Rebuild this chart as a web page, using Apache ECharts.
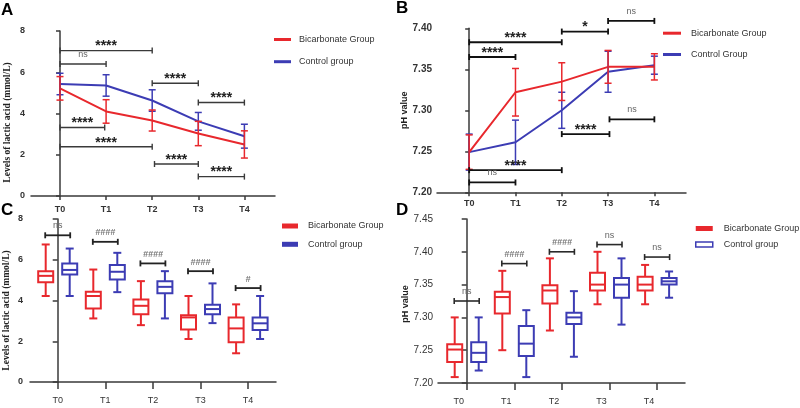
<!DOCTYPE html>
<html><head><meta charset="utf-8">
<script src="https://cdn.jsdelivr.net/npm/echarts@6/dist/echarts.min.js"></script>
<style>html,body{margin:0;padding:0;background:#fff}#c{width:800px;height:408px}</style>
</head><body><div id="c"></div>
<script>
// ---------- data ----------
const categories = ['T0', 'T1', 'T2', 'T3', 'T4'];

// Panel A: lactic acid (mmol/L), mean and SD
const lacBicMean = [5.22, 4.10, 3.66, 3.03, 2.50];
const lacBicSd   = [0.57, 0.57, 0.51, 0.59, 0.66];
const lacCtlMean = [5.43, 5.36, 4.63, 3.62, 2.90];
const lacCtlSd   = [0.52, 0.52, 0.52, 0.43, 0.58];
// brackets: [fromTime, toTime, y, label]
const lacTimeBrackets = [
  [0, 2, 7.05, '****'], [0, 1, 6.40, 'ns'], [2, 3, 5.47, '****'], [3, 4, 4.53, '****'],
  [0, 0.97, 3.32, '****'], [0, 2, 2.39, '****'], [2.05, 3, 1.55, '****'], [3, 4, 0.94, '****']
];

// Panel B: pH, mean and SD
const phBicMean = [7.249, 7.322, 7.335, 7.353, 7.353];
const phBicSd   = [0.021, 0.029, 0.023, 0.020, 0.016];
const phCtlMean = [7.249, 7.261, 7.300, 7.347, 7.355];
const phCtlSd   = [0.022, 0.027, 0.022, 0.025, 0.011];
const phTimeBrackets = [
  [0, 1, 7.365, '****'], [0, 2, 7.383, '****'], [2, 3, 7.396, '*'], [3, 4, 7.409, 'ns'],
  [3.03, 4, 7.289, 'ns'], [2, 3.03, 7.271, '****'], [0, 2, 7.227, '****'], [0, 1, 7.212, 'ns']
];

// Panel C: lactic acid boxes [min, Q1, median, Q3, max]
const lacBicBox = [
  [4.22, 4.90, 5.21, 5.44, 6.75], [3.12, 3.61, 4.22, 4.43, 5.52], [2.79, 3.32, 3.74, 4.05, 4.95],
  [2.11, 2.58, 3.17, 3.27, 4.22], [1.41, 1.95, 2.63, 3.17, 3.81]
];
const lacCtlBox = [
  [4.22, 5.28, 5.50, 5.82, 6.55], [4.41, 5.03, 5.41, 5.74, 6.34], [3.12, 4.35, 4.67, 4.95, 5.44],
  [2.89, 3.33, 3.58, 3.79, 4.84], [2.11, 2.55, 2.88, 3.17, 4.22]
];
// group brackets: [time index, y, label]
const lacGroupBrackets = [[0, 7.20, 'ns'], [1, 6.88, '####'], [2, 5.82, '####'], [3, 5.44, '####'], [4, 4.61, '#']];

// Panel D: pH boxes [min, Q1, median, Q3, max]
const phBicBox = [
  [7.209, 7.232, 7.251, 7.259, 7.300], [7.250, 7.306, 7.331, 7.339, 7.371], [7.280, 7.321, 7.341, 7.349, 7.390],
  [7.320, 7.341, 7.350, 7.368, 7.400], [7.320, 7.341, 7.350, 7.362, 7.380]
];
const phCtlBox = [
  [7.219, 7.232, 7.246, 7.262, 7.300], [7.209, 7.241, 7.260, 7.287, 7.311], [7.240, 7.290, 7.300, 7.307, 7.340],
  [7.289, 7.330, 7.350, 7.360, 7.390], [7.330, 7.350, 7.355, 7.360, 7.370]
];
const phGroupBrackets = [[0, 7.325, 'ns'], [1, 7.382, '####'], [2, 7.400, '####'], [3, 7.411, 'ns'], [4, 7.392, 'ns']];

// ---------- styles ----------
const RED = '#e8282d', BLUE = '#3c3cb4', AX = '#3a3a3a';
const SANS = 'Liberation Sans', SERIF = 'Liberation Serif';

function labelStyle(lbl) {
  if (lbl.indexOf('*') >= 0) return { fontSize: 14, fontWeight: 'bold', fill: '#222', dy: -4 };
  if (lbl.indexOf('#') >= 0) return { fontSize: 9, fontWeight: 'bold', fontStyle: 'italic', fill: '#777', dy: -9 };
  return { fontSize: 9, fontWeight: 'normal', fill: '#666', dy: -9.5 };
}
function bracketGroup(x1, x2, y, lbl, color, lw) {
  const ls = labelStyle(lbl);
  const st = { stroke: color, lineWidth: lw };
  return { type: 'group', children: [
    { type: 'line', shape: { x1: x1, y1: y, x2: x2, y2: y }, style: st },
    { type: 'line', shape: { x1: x1, y1: y - 3, x2: x1, y2: y + 3 }, style: st },
    { type: 'line', shape: { x1: x2, y1: y - 3, x2: x2, y2: y + 3 }, style: st },
    { type: 'text', x: (x1 + x2) / 2, y: y + ls.dy, style: {
      text: lbl, align: 'center', verticalAlign: 'middle', fontSize: ls.fontSize,
      fontWeight: ls.fontWeight, fontStyle: ls.fontStyle || 'normal', fontFamily: SANS, fill: ls.fill } }
  ]};
}
function makeTimeBracketRender(src, color, lw) {
  return function (params, api) {
    const b = src[params.dataIndex];
    const p1 = api.coord([b[0], b[2]]), p2 = api.coord([b[1], b[2]]);
    return bracketGroup(p1[0], p2[0], p1[1], b[3], color, lw);
  };
}
function makeGroupBracketRender(src, color, lw, half) {
  return function (params, api) {
    const b = src[params.dataIndex];
    const p = api.coord([b[0], b[1]]);
    return bracketGroup(p[0] - half, p[0] + half, p[1], b[2], color, lw);
  };
}
function errorBarRender(params, api) {
  const x = api.value(0), m = api.value(1), s = api.value(2);
  const t = api.coord([x, m + s]), b = api.coord([x, m - s]);
  const hw = 3.5, st = { stroke: api.visual('color'), lineWidth: 1.5 };
  return { type: 'group', children: [
    { type: 'line', shape: { x1: t[0], y1: t[1], x2: b[0], y2: b[1] }, style: st },
    { type: 'line', shape: { x1: t[0] - hw, y1: t[1], x2: t[0] + hw, y2: t[1] }, style: st },
    { type: 'line', shape: { x1: b[0] - hw, y1: b[1], x2: b[0] + hw, y2: b[1] }, style: st }
  ]};
}
function makeBoxRender(offset) {
  return function (params, api) {
    const i = api.value(0);
    const ys = [1, 2, 3, 4, 5].map(k => api.coord([i, api.value(k)])[1]);
    const x = api.coord([i, api.value(3)])[0] + offset;
    const [ymin, yq1, ymed, yq3, ymax] = ys;
    const bw = 7.5, cw = 4;
    const st = { stroke: api.visual('color'), lineWidth: 2 };
    return { type: 'group', children: [
      { type: 'line', shape: { x1: x, y1: ymax, x2: x, y2: yq3 }, style: st },
      { type: 'line', shape: { x1: x, y1: yq1, x2: x, y2: ymin }, style: st },
      { type: 'line', shape: { x1: x - cw, y1: ymax, x2: x + cw, y2: ymax }, style: st },
      { type: 'line', shape: { x1: x - cw, y1: ymin, x2: x + cw, y2: ymin }, style: st },
      { type: 'rect', shape: { x: x - bw, y: yq3, width: 2 * bw, height: yq1 - yq3 },
        style: { stroke: api.visual('color'), lineWidth: 2, fill: 'none' } },
      { type: 'line', shape: { x1: x - bw, y1: ymed, x2: x + bw, y2: ymed }, style: st }
    ]};
  };
}

function xAxis(gridIndex, min, max, o) {
  return {
    type: 'value', gridIndex: gridIndex, min: min, max: max, splitLine: { show: false },
    axisLine: { show: true, lineStyle: { color: AX, width: 1.5 } },
    axisTick: { show: true, customValues: [0, 1, 2, 3, 4], length: o.tick, lineStyle: { color: AX, width: 1.5 } },
    axisLabel: { customValues: [0, 1, 2, 3, 4], formatter: v => categories[Math.round(v)], margin: o.margin,
      fontSize: 9, fontWeight: o.bold ? 'bold' : 'normal', color: '#333', fontFamily: SANS, padding: o.pad || 0 }
  };
}
function yAxis(gridIndex, min, max, interval, o) {
  return {
    type: 'value', gridIndex: gridIndex, min: min, max: max, interval: interval, splitLine: { show: false },
    axisLine: { show: true, lineStyle: { color: AX, width: 1.5 } },
    axisTick: { show: true, length: o.tick, lineStyle: { color: AX, width: 1.5 } },
    axisLabel: { margin: o.margin, fontSize: o.fs, fontWeight: o.bold ? 'bold' : 'normal', color: '#333', fontFamily: SANS,
      formatter: o.dec ? (v => v.toFixed(o.dec)) : (v => String(v)) },
    name: o.name, nameLocation: 'middle', nameGap: o.gap,
    nameTextStyle: { fontSize: o.nfs, fontWeight: 'bold', fontFamily: o.nfont, color: '#222', padding: o.npad || 0 }
  };
}

const series = [];
// Panel A
series.push({ name: 'Control group', type: 'line', xAxisIndex: 0, yAxisIndex: 0, symbol: 'none',
  data: lacCtlMean.map((v, i) => [i, v]), lineStyle: { color: BLUE, width: 2 }, itemStyle: { color: BLUE }, z: 2 });
series.push({ name: 'Bicarbonate Group', type: 'line', xAxisIndex: 0, yAxisIndex: 0, symbol: 'none',
  data: lacBicMean.map((v, i) => [i, v]), lineStyle: { color: RED, width: 2 }, itemStyle: { color: RED }, z: 2 });
series.push({ name: 'Control group', type: 'custom', xAxisIndex: 0, yAxisIndex: 0, renderItem: errorBarRender,
  data: lacCtlMean.map((v, i) => [i, v, lacCtlSd[i]]), itemStyle: { color: BLUE }, z: 3 });
series.push({ name: 'Bicarbonate Group', type: 'custom', xAxisIndex: 0, yAxisIndex: 0, renderItem: errorBarRender,
  data: lacBicMean.map((v, i) => [i, v, lacBicSd[i]]), itemStyle: { color: RED }, z: 3 });
series.push({ type: 'custom', xAxisIndex: 0, yAxisIndex: 0, renderItem: makeTimeBracketRender(lacTimeBrackets, '#3a3a3a', 1.4),
  data: lacTimeBrackets.map(b => [b[0], b[1], b[2]]), z: 4, silent: true });
// Panel B
series.push({ name: 'Control Group', type: 'line', xAxisIndex: 1, yAxisIndex: 1, symbol: 'none',
  data: phCtlMean.map((v, i) => [i, v]), lineStyle: { color: BLUE, width: 2 }, itemStyle: { color: BLUE }, z: 2 });
series.push({ name: 'Bicarbonate Group', type: 'line', xAxisIndex: 1, yAxisIndex: 1, symbol: 'none',
  data: phBicMean.map((v, i) => [i, v]), lineStyle: { color: RED, width: 2 }, itemStyle: { color: RED }, z: 2 });
series.push({ name: 'Control Group', type: 'custom', xAxisIndex: 1, yAxisIndex: 1, renderItem: errorBarRender,
  data: phCtlMean.map((v, i) => [i, v, phCtlSd[i]]), itemStyle: { color: BLUE }, z: 3 });
series.push({ name: 'Bicarbonate Group', type: 'custom', xAxisIndex: 1, yAxisIndex: 1, renderItem: errorBarRender,
  data: phBicMean.map((v, i) => [i, v, phBicSd[i]]), itemStyle: { color: RED }, z: 3 });
series.push({ type: 'custom', xAxisIndex: 1, yAxisIndex: 1, renderItem: makeTimeBracketRender(phTimeBrackets, '#111', 1.8),
  data: phTimeBrackets.map(b => [b[0], b[1], b[2]]), z: 4, silent: true });
// Panel C
series.push({ name: 'Bicarbonate Group', type: 'custom', xAxisIndex: 2, yAxisIndex: 2, renderItem: makeBoxRender(-12),
  data: lacBicBox.map((b, i) => [i].concat(b)), itemStyle: { color: RED } });
series.push({ name: 'Control group', type: 'custom', xAxisIndex: 2, yAxisIndex: 2, renderItem: makeBoxRender(12),
  data: lacCtlBox.map((b, i) => [i].concat(b)), itemStyle: { color: BLUE } });
series.push({ type: 'custom', xAxisIndex: 2, yAxisIndex: 2, renderItem: makeGroupBracketRender(lacGroupBrackets, '#222', 1.8, 12.5),
  data: lacGroupBrackets.map(b => [b[0], b[1]]), silent: true });
// Panel D
series.push({ name: 'Bicarbonate Group', type: 'custom', xAxisIndex: 3, yAxisIndex: 3, renderItem: makeBoxRender(-12),
  data: phBicBox.map((b, i) => [i].concat(b)), itemStyle: { color: RED } });
series.push({ name: 'Control group', type: 'custom', xAxisIndex: 3, yAxisIndex: 3, renderItem: makeBoxRender(12),
  data: phCtlBox.map((b, i) => [i].concat(b)), itemStyle: { color: BLUE } });
series.push({ type: 'custom', xAxisIndex: 3, yAxisIndex: 3, renderItem: makeGroupBracketRender(phGroupBrackets, '#2a2a2a', 1.6, 12.5),
  data: phGroupBrackets.map(b => [b[0], b[1]]), silent: true });

const legendText = { fontSize: 9, color: '#333', fontFamily: SANS };
const option = {
  animation: false,
  backgroundColor: '#fff',
  title: [
    { text: 'A', left: 1, top: 2 }, { text: 'B', left: 396, top: 0 },
    { text: 'C', left: 1, top: 202 }, { text: 'D', left: 396, top: 202 }
  ].map(t => Object.assign(t, { padding: 0, textStyle: { fontSize: 17, fontWeight: 'bold', color: '#000', fontFamily: SANS } })),
  grid: [
    { left: 31, top: 31, width: 244, height: 165 },
    { left: 437, top: 28.3, width: 249, height: 164 },
    { left: 30, top: 219, width: 246, height: 163 },
    { left: 438, top: 219, width: 247, height: 164 }
  ],
  xAxis: [
    xAxis(0, -0.629, 4.664, { tick: 4, margin: 9, bold: true }),
    xAxis(1, -0.695, 4.683, { tick: 4, margin: 7, bold: true }),
    xAxis(2, -0.582, 4.586, { tick: 7, margin: 14, bold: false }),
    xAxis(3, -0.603, 4.586, { tick: 7, margin: 14, bold: false, pad: [0, 16, 0, 0] })
  ],
  yAxis: [
    yAxis(0, 0, 8, 2, { tick: 4, margin: 6, fs: 9, bold: true, name: 'Levels of lactic acid (mmol/L)', gap: 18, nfs: 9.5, nfont: SERIF, npad: [0, 18, 0, 0] }),
    yAxis(1, 7.20, 7.40, 0.05, { tick: 4, margin: 5, fs: 10, bold: true, dec: 2, name: 'pH value', gap: 27, nfs: 9, nfont: SANS }),
    yAxis(2, 0, 8, 2, { tick: 5, margin: 7, fs: 9, bold: true, name: 'Levels of lactic acid (mmol/L)', gap: 18, nfs: 9.5, nfont: SERIF, npad: [0, 20, 0, 0] }),
    yAxis(3, 7.20, 7.45, 0.05, { tick: 5, margin: 5, fs: 10, bold: false, dec: 2, name: 'pH value', gap: 27, nfs: 9, nfont: SANS, npad: [0, 6, 0, 0] })
  ],
  legend: [
    { orient: 'vertical', padding: 0, left: 274, top: 35, itemWidth: 17, itemHeight: 3, itemGap: 13.2,
      textStyle: Object.assign({ padding: [0, 0, 0, 3] }, legendText),
      data: [{ name: 'Bicarbonate Group', icon: 'rect', itemStyle: { color: RED } },
             { name: 'Control group', icon: 'rect', itemStyle: { color: BLUE } }] },
    { orient: 'vertical', padding: 0, left: 663, top: 28.7, itemWidth: 18, itemHeight: 3, itemGap: 12.3,
      textStyle: Object.assign({ padding: [0, 0, 0, 5] }, legendText),
      data: [{ name: 'Bicarbonate Group', icon: 'rect', itemStyle: { color: RED } },
             { name: 'Control Group', icon: 'rect', itemStyle: { color: BLUE } }] },
    { orient: 'vertical', padding: 0, left: 282, top: 221.5, itemWidth: 16, itemHeight: 5, itemGap: 9.3,
      textStyle: Object.assign({ padding: [0, 0, 0, 5] }, legendText),
      data: [{ name: 'Bicarbonate Group', icon: 'rect', itemStyle: { color: RED } },
             { name: 'Control group', icon: 'rect', itemStyle: { color: BLUE } }] },
    { orient: 'vertical', padding: 0, left: 695, top: 224, itemWidth: 17, itemHeight: 5, itemGap: 7,
      textStyle: Object.assign({ padding: [0, 0, 0, 6] }, legendText),
      data: [{ name: 'Bicarbonate Group', icon: 'rect', itemStyle: { color: RED } },
             { name: 'Control group', icon: 'rect', itemStyle: { color: '#fff', borderColor: BLUE, borderWidth: 1.5 } }] }
  ],
  series: series
};
const chart = echarts.init(document.getElementById('c'), null, { renderer: 'canvas' });
chart.setOption(option);
</script></body></html>
